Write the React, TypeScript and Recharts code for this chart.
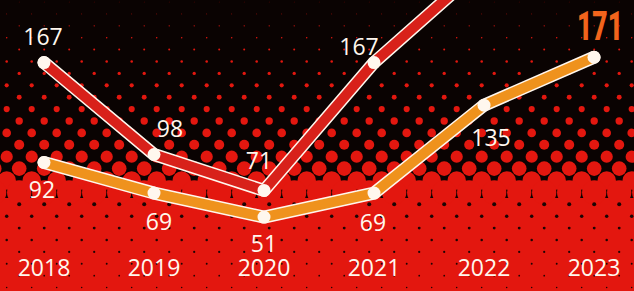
import React from "react";
import { LineChart, Line, XAxis, YAxis, LabelList } from "recharts";

const years = ["2018", "2019", "2020", "2021", "2022", "2023"];
const redValues = [167, 98, 71, 167, 240, null];
const orangeValues = [92, 69, 51, 69, 135, 171];

const data = years.map((year, i) => ({
  year,
  red: redValues[i],
  orange: orangeValues[i],
}));

const W = 634;
const H = 291;
const Y_MAX = 214;
const FONT = "'Open Sans', 'DejaVu Sans', sans-serif";
const WHITE = "#fff7ee";
const RED_BG = "#e3170f";
const RED_LINE = "#d8211a";
const ORANGE_LINE = "#ef921d";

// label nudges per point (dx, dy of text baseline from the point)
const redLabelNudge: [number, number][] = [
  [-1, -18],
  [16, -17],
  [-5, -21],
  [-15, -8],
  [0, 0],
  [0, 0],
];
const orangeLabelNudge: [number, number][] = [
  [-2, 36],
  [5, 37],
  [0, 35],
  [-1, 38],
  [7, 41],
  [6, -17],
];

// halftone background: red dots growing on black, then black specks on red
function lerpTable(table: [number, number][], v: number) {
  if (v <= table[0][0]) return table[0][1];
  for (let i = 1; i < table.length; i++) {
    if (v <= table[i][0]) {
      const [x0, y0] = table[i - 1];
      const [x1, y1] = table[i];
      return y0 + ((y1 - y0) * (v - x0)) / (x1 - x0);
    }
  }
  return table[table.length - 1][1];
}

const redDotSize: [number, number][] = [
  [0, 0.3],
  [40, 0.8],
  [62, 1.3],
  [98, 2.5],
  [133, 4.3],
  [148, 5.2],
  [170, 7.5],
  [185, 10],
  [197, 13.5],
];
const blackDotSize: [number, number][] = [
  [205, 2.0],
  [230, 1.4],
  [260, 1.0],
  [291, 0.7],
];

function Halftone() {
  const dots: React.ReactNode[] = [];
  const rowGap = 11.9;
  for (let k = 0; k < 26; k++) {
    const y = 2 + rowGap * k;
    const off = k % 2 === 1 ? 6.7 : 19.2;
    if (y <= 199) {
      const r = lerpTable(redDotSize, y);
      for (let x = off - 25; x < W + 25; x += 25) {
        dots.push(<circle key={`r${k}-${x}`} cx={x} cy={y} r={r} fill={RED_BG} />);
      }
    } else {
      const r = lerpTable(blackDotSize, y);
      for (let x = off - 12.5; x < W + 25; x += 25) {
        dots.push(<circle key={`b${k}-${x}`} cx={x} cy={y} r={r} fill="#1a0504" />);
      }
    }
  }
  return (
    <svg width={W} height={H} style={{ position: "absolute", left: 0, top: 0 }}>
      <rect x={0} y={0} width={W} height={H} fill="#0a0302" />
      <rect x={0} y={198} width={W} height={H - 198} fill={RED_BG} />
      {dots}
    </svg>
  );
}

const makeLabel = (nudge: [number, number][], series: "red" | "orange") => (props: any) => {
  const { x, y, value, index } = props;
  if (value === null || value === undefined || value > Y_MAX) return null;
  const [dx, dy] = nudge[index] || [0, 0];
  if (series === "orange" && index === years.length - 1) {
    return (
      <text
        x={x + dx}
        y={y + dy}
        textAnchor="middle"
        fontFamily="Roboto, sans-serif"
        fontWeight={900}
        fontSize={40}
        textLength={46}
        lengthAdjust="spacingAndGlyphs"
        fill="#f2641c"
      >
        {value}
      </text>
    );
  }
  return (
    <text
      x={x + dx}
      y={y + dy}
      textAnchor="middle"
      fontFamily={FONT}
      fontSize={23}
      fill={WHITE}
    >
      {value}
    </text>
  );
};

const renderYearTick = (props: any) => {
  const { x, y, payload } = props;
  return (
    <text x={x} y={y} dy={-9} textAnchor="middle" fontFamily={FONT} fontSize={23} fill={WHITE}>
      {payload.value}
    </text>
  );
};

export default function App() {
  return (
    <div style={{ position: "absolute", left: 0, top: 0, width: W, height: H, overflow: "hidden" }}>
      <Halftone />
      <div style={{ position: "absolute", left: 0, top: 0 }}>
        <LineChart width={W} height={H} data={data} margin={{ top: 0, right: 0, bottom: 0, left: 0 }}>
          <XAxis
            dataKey="year"
            axisLine={false}
            tickLine={false}
            tickSize={0}
            tickMargin={0}
            height={6}
            padding={{ left: 44, right: 40 }}
            interval={0}
            tick={renderYearTick}
          />
          <YAxis hide domain={[0, Y_MAX]} allowDataOverflow />
          <Line
            dataKey="red"
            name="red-outline"
            stroke={WHITE}
            strokeWidth={13}
            strokeLinecap="round"
            strokeLinejoin="round"
            dot={false}
            activeDot={false}
            isAnimationActive={false}
          />
          <Line
            dataKey="red"
            name="red"
            stroke={RED_LINE}
            strokeWidth={10}
            strokeLinejoin="round"
            dot={{ r: 6.5, fill: WHITE, stroke: "none" }}
            activeDot={false}
            isAnimationActive={false}
          >
            <LabelList dataKey="red" content={makeLabel(redLabelNudge, "red")} />
          </Line>
          <Line
            dataKey="orange"
            name="orange-outline"
            stroke={WHITE}
            strokeWidth={13}
            strokeLinecap="round"
            strokeLinejoin="round"
            dot={false}
            activeDot={false}
            isAnimationActive={false}
          />
          <Line
            dataKey="orange"
            name="orange"
            stroke={ORANGE_LINE}
            strokeWidth={10}
            strokeLinejoin="round"
            dot={{ r: 6.5, fill: WHITE, stroke: "none" }}
            activeDot={false}
            isAnimationActive={false}
          >
            <LabelList dataKey="orange" content={makeLabel(orangeLabelNudge, "orange")} />
          </Line>
        </LineChart>
      </div>
    </div>
  );
}
